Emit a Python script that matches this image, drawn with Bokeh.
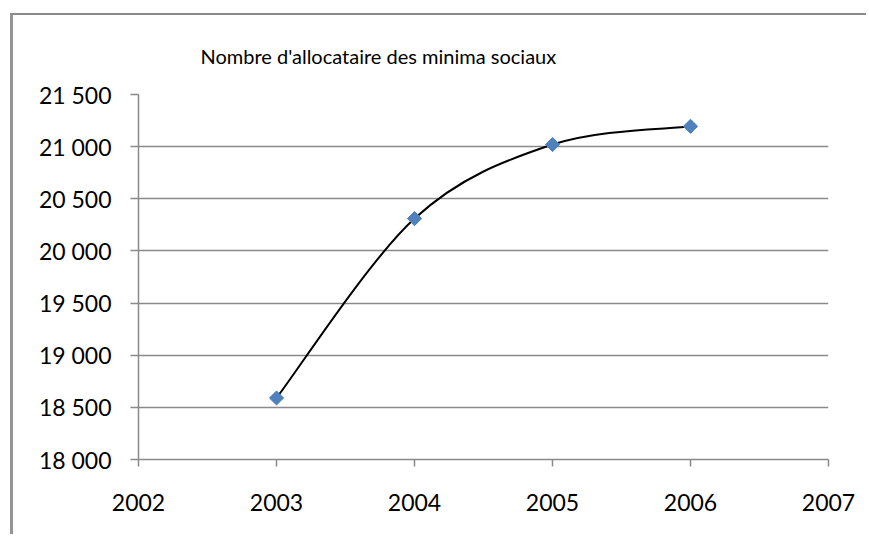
import numpy as np
from bokeh.plotting import figure
from bokeh.models import Range1d, FixedTicker
from bokeh.embed import file_html
from bokeh.resources import INLINE

# ---- data ----
years = [2003, 2004, 2005, 2006]
allocataires = [18590, 20310, 21020, 21195]
x_ticks = [2002, 2003, 2004, 2005, 2006, 2007]
x_tick_labels = ["2002", "2003", "2004", "2005", "2006", "2007"]
y_ticks = [18000, 18500, 19000, 19500, 20000, 20500, 21000, 21500]
y_tick_labels = ["18 000", "18 500", "19 000", "19 500", "20 000", "20 500", "21 000", "21 500"]
title_text = "Nombre d'allocataire des minima sociaux"

# ---- smoothed line (Catmull-Rom -> Bezier, like Excel's smoothing) ----
x = np.array(years, dtype=float)
y = np.array(allocataires, dtype=float)
n = len(x)
xp = np.concatenate([[x[0]], x, [x[-1]]])
yp = np.concatenate([[y[0]], y, [y[-1]]])
t = 1.0 / 6.0
i = np.arange(n - 1)
bx0, by0 = xp[i + 1], yp[i + 1]
bx1, by1 = xp[i + 2], yp[i + 2]
cx0 = xp[i + 1] + (xp[i + 2] - xp[i]) * t
cy0 = yp[i + 1] + (yp[i + 2] - yp[i]) * t
cx1 = xp[i + 2] - (xp[i + 3] - xp[i + 1]) * t
cy1 = yp[i + 2] - (yp[i + 3] - yp[i + 1]) * t

GRAY = "#8a8a8a"
FONT = "Lato"

p = figure(width=856, height=521,
           x_range=Range1d(x_ticks[0], x_ticks[-1]),
           y_range=Range1d(y_ticks[0], y_ticks[-1]),
           output_backend="svg", toolbar_location=None,
           min_border_left=125, min_border_right=41,
           min_border_top=78, min_border_bottom=77)
p.margin = (13, 0, 0, 10)
p.styles = {"border-top": "2px solid #8a8a8a", "border-left": "3px solid #949494"}
p.outline_line_color = None
p.background_fill_color = "white"
p.border_fill_color = "white"

# grid
p.xgrid.visible = False
p.ygrid.ticker = FixedTicker(ticks=y_ticks)
p.ygrid.grid_line_color = GRAY
p.ygrid.grid_line_width = 1.5

# axes
for ax, ticks, labels, tout, so in ((p.xaxis[0], x_ticks, x_tick_labels, 7, 27),
                                    (p.yaxis[0], y_ticks, y_tick_labels, 8, 19)):
    ax.ticker = FixedTicker(ticks=ticks)
    ax.major_label_overrides = dict(zip(ticks, labels))
    ax.axis_line_color = GRAY
    ax.axis_line_width = 1.5
    ax.major_tick_line_color = GRAY
    ax.major_tick_line_width = 1.5
    ax.major_tick_out = tout
    ax.major_tick_in = 0
    ax.minor_tick_out = 0
    ax.minor_tick_in = 0
    ax.major_label_text_font = FONT
    ax.major_label_text_font_size = "23px"
    ax.major_label_text_color = "#000000"
    ax.major_label_standoff = so

# title
p.title.text = title_text
p.title.align = "left"
p.title.offset = 62
p.title.text_font = FONT
p.title.text_font_size = "20px"
p.title.text_font_style = "normal"
p.title.text_color = "#000000"
p.title.standoff = 53

# series
p.bezier(x0=bx0, y0=by0, x1=bx1, y1=by1, cx0=cx0, cy0=cy0, cx1=cx1, cy1=cy1,
         line_color="black", line_width=2)
p.scatter(x=years, y=allocataires, marker="square", size=10, angle=np.pi / 4,
          fill_color="#4F81BD", line_color="#4A7EBB", line_width=1)

open("out.html", "w").write(file_html(p, INLINE))
